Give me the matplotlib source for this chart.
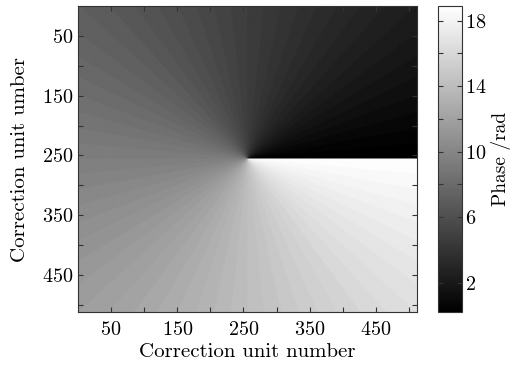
import numpy as np
import matplotlib
matplotlib.use("Agg")
import matplotlib.pyplot as plt
from matplotlib.ticker import FixedLocator

plt.rcParams['font.family'] = ['cmr10', 'DejaVu Serif']
plt.rcParams['axes.formatter.use_mathtext'] = True

# vortex phase plate parameters
n_units = 512          # correction units per side
charge = 3             # topological charge -> 0 .. 6*pi
center = 256
n_levels = 64          # phase quantisation steps
clim = (0.2, 18.9)

x_major = [50, 150, 250, 350, 450]
x_minor = [100, 200, 300, 400, 500]
cb_major = [2, 6, 10, 14, 18]
cb_minor = [4, 8, 12, 16]

# build the phase map
cols, rows = np.meshgrid(np.arange(n_units) + 0.5, np.arange(n_units) + 0.5)
theta = np.mod(np.arctan2(center - rows, cols - center), 2 * np.pi)
step = 2 * np.pi / n_levels
theta = (np.floor(theta / step) + 0.5) * step
phase = charge * theta

fig = plt.figure(figsize=(5.27, 3.69), dpi=100)
ax = fig.add_axes([0.148, 0.154, 0.643, 0.830])
cax = fig.add_axes([0.831, 0.154, 0.046, 0.830])

im = ax.imshow(phase, cmap='gray', vmin=clim[0], vmax=clim[1],
               extent=[0, n_units, n_units, 0], aspect='auto',
               interpolation='bilinear')

ax.xaxis.set_major_locator(FixedLocator(x_major))
ax.xaxis.set_minor_locator(FixedLocator(x_minor))
ax.yaxis.set_major_locator(FixedLocator(x_major))
ax.yaxis.set_minor_locator(FixedLocator(x_minor))
ax.tick_params(which='both', direction='in', length=3.5, width=0.8,
               color='#333333', top=True, right=True, labelsize=14.5)
ax.tick_params(axis='x', pad=6)
ax.set_xlabel("Correction unit number", fontsize=15, labelpad=3)
ax.set_ylabel("Correction unit umber", fontsize=15, labelpad=9)
for s in ax.spines.values():
    s.set_color('#333333')

cb = fig.colorbar(im, cax=cax)
cb.set_ticks(cb_major)
cax.yaxis.set_minor_locator(FixedLocator(cb_minor))
cax.tick_params(which='both', direction='in', length=3.5, width=0.8,
                color='#333333', left=True, right=True, labelsize=14.5, pad=2)
cb.outline.set_edgecolor('#333333')
cb.set_label("Phase /rad", fontsize=14, labelpad=3)

fig.savefig("out.png", dpi=100)
